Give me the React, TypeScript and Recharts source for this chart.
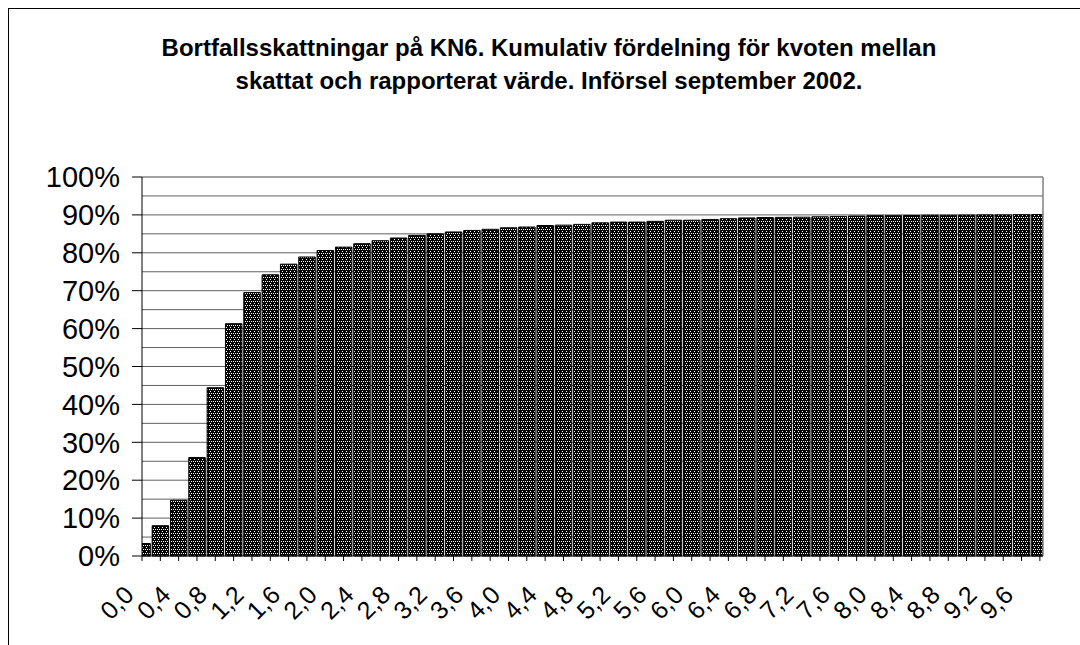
import { BarChart, Bar, XAxis, YAxis, CartesianGrid, ReferenceLine } from "recharts";

// kvot skattat / rapporterat värde (klassens startpunkt)
const kvot = [
  0.0, 0.2, 0.4, 0.6, 0.8, 1.0, 1.2, 1.4, 1.6, 1.8,
  2.0, 2.2, 2.4, 2.6, 2.8, 3.0, 3.2, 3.4, 3.6, 3.8,
  4.0, 4.2, 4.4, 4.6, 4.8, 5.0, 5.2, 5.4, 5.6, 5.8,
  6.0, 6.2, 6.4, 6.6, 6.8, 7.0, 7.2, 7.4, 7.6, 7.8,
  8.0, 8.2, 8.4, 8.6, 8.8, 9.0, 9.2, 9.4, 9.6, 9.8,
];

// kumulativ andel i procent
const andel = [
  3.3, 8.0, 14.7, 26.0, 44.4, 61.3, 69.5, 74.2, 77.0, 78.9,
  80.6, 81.5, 82.4, 83.2, 83.9, 84.6, 85.0, 85.5, 85.9, 86.2,
  86.6, 86.8, 87.2, 87.3, 87.5, 87.9, 88.1, 88.1, 88.3, 88.6,
  88.6, 88.8, 89.0, 89.2, 89.3, 89.35, 89.4, 89.5, 89.6, 89.7,
  89.8, 89.8, 89.85, 89.9, 89.9, 89.95, 90.0, 90.0, 90.05, 90.1,
];

const yTicks = [0, 10, 20, 30, 40, 50, 60, 70, 80, 90, 100];
const gridLines = [5, 10, 15, 20, 25, 30, 35, 40, 45, 50, 55, 60, 65, 70, 75, 80, 85, 90, 95];

const data = kvot.map((k, i) => ({ kvot: k, andel: andel[i] }));

const FONT = '"Liberation Sans", Arial, Helvetica, sans-serif';
const X_MAX = 9.834;

function XTick(props: any) {
  const { x, y, payload } = props;
  const v = Math.round(payload.value * 10);
  if (v % 4 !== 0) return <g />;
  const label = (v / 10).toFixed(1).replace(".", ",");
  const ax = x - 13;
  const ay = y + 27;
  return (
    <text
      x={ax}
      y={ay}
      transform={`rotate(-45 ${ax} ${ay})`}
      textAnchor="end"
      dominantBaseline="central"
      fontSize={25}
      fontFamily={FONT}
      fill="#000"
    >
      {label}
    </text>
  );
}

export default function App() {
  return (
    <div style={{ position: "fixed", left: 8, top: 8, width: 1072, height: 637, overflow: "hidden", background: "#fff" }}>
      <div
        style={{
          position: "relative",
          width: 1100,
          height: 700,
          border: "1px solid #000",
          boxSizing: "border-box",
          fontFamily: FONT,
        }}
      >
        <div
          style={{
            position: "absolute",
            top: 22,
            left: 0,
            width: 1080,
            textAlign: "center",
            fontWeight: "bold",
            fontSize: 24,
            lineHeight: "33px",
          }}
        >
          Bortfallsskattningar på KN6. Kumulativ fördelning för kvoten mellan
          <br />
          skattat och rapporterat värde. Införsel september 2002.
        </div>
        <div style={{ position: "absolute", top: 0, left: 0 }}>
          <BarChart
            width={1060}
            height={630}
            data={data}
            margin={{ top: 168, right: 26, bottom: 23, left: 0 }}
          >
            <defs>
              <pattern id="prick" width="4" height="4" patternUnits="userSpaceOnUse">
                <rect width="4" height="4" fill="#000" />
                <rect x="0" y="0" width="1" height="1" fill="#fff" />
                <rect x="2" y="0" width="1" height="1" fill="#fff" />
                <rect x="1" y="2" width="1" height="1" fill="#fff" />
              </pattern>
            </defs>
            <CartesianGrid vertical={false} horizontalValues={gridLines} stroke="#606060" />
            <XAxis
              dataKey="kvot"
              type="number"
              domain={[0, X_MAX]}
              ticks={kvot}
              interval={0}
              allowDataOverflow
              height={60}
              tickSize={5}
              tickLine={{ stroke: "#000" }}
              axisLine={{ stroke: "#000" }}
              tick={<XTick />}
            />
            <YAxis
              domain={[0, 100]}
              ticks={yTicks}
              interval={0}
              width={133}
              tickSize={10}
              tickMargin={12}
              tickFormatter={(v: number) => `${v}%`}
              tick={{ fontSize: 29, fill: "#000", fontFamily: FONT }}
              tickLine={{ stroke: "#000" }}
              axisLine={{ stroke: "#000" }}
            />
            <ReferenceLine y={100} stroke="#808080" strokeWidth={1.5} />
            <ReferenceLine x={X_MAX} stroke="#808080" strokeWidth={1.5} />
            <Bar
              dataKey="andel"
              barSize={18.33}
              fill="url(#prick)"
              stroke="#000"
              strokeWidth={1}
              isAnimationActive={false}
            />
          </BarChart>
        </div>
      </div>
    </div>
  );
}
